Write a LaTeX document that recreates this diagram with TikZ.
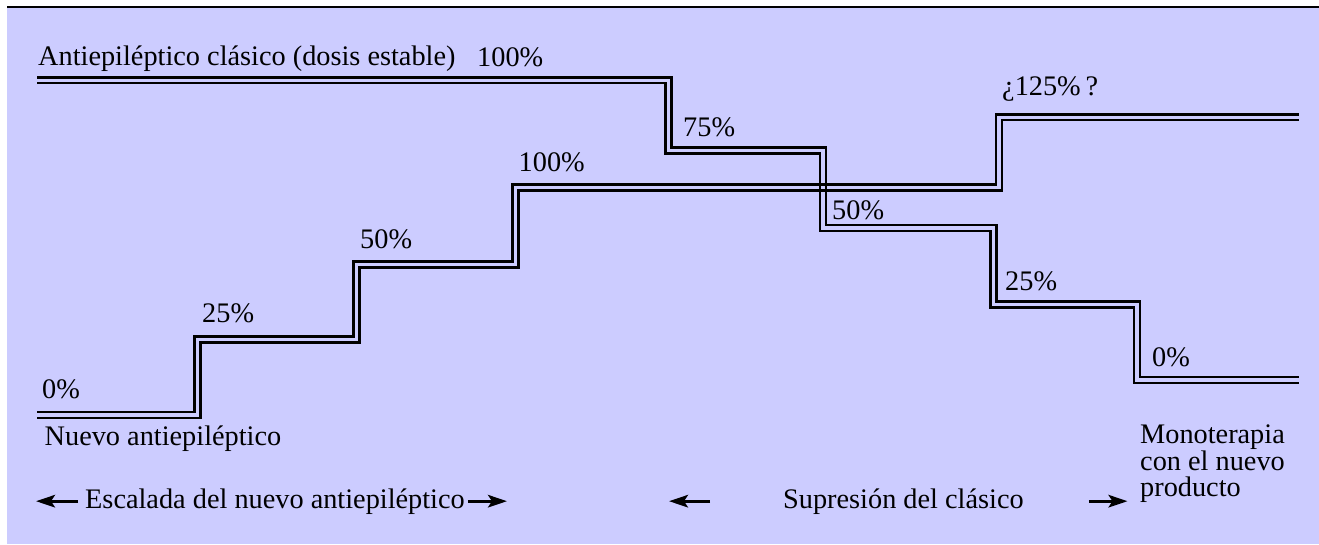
\documentclass[tikz,border=0pt]{standalone}
\usepackage{fontspec}
\setmainfont{Liberation Serif}
\usepackage{tikz}
\usetikzlibrary{arrows.meta,positioning}
\definecolor{panelblue}{RGB}{204,204,255}

\begin{document}
\begin{tikzpicture}[
    x=1pt, y=-1pt,
    lbl/.style={inner sep=0pt, anchor=base west, font=\fontsize{28.3}{26.5}\selectfont},
    rail/.style={line width=2.5pt},
    arrow/.style={-{Stealth[length=19pt, width=12.5pt, inset=4pt]}, line width=2.8pt}
]
\useasboundingbox (0,0) rectangle (1319,544);

% Panel
\fill[panelblue] (7,8) rectangle (1319,544);
\draw[line width=2.2pt] (7,7.2) -- (1319,7.2);

% Classic drug (stepping down)
\foreach \d in {-2.8,2.8}
  \draw[rail] (37,{80.3-\d}) -| ({668.5+\d},{150.5-\d}) -| ({823+\d},{228-\d}) -| ({993.5+\d},{304.5-\d}) -| ({1137+\d},{380-\d}) -- (1299,{380-\d});

% New drug (stepping up)
\foreach \d in {-2.8,2.8}
  \draw[rail] (37,{415-\d}) -| ({197.5-\d},{339.5-\d}) -| ({356.5-\d},{264.5-\d}) -| ({515.5-\d},{187.5-\d}) -| ({999-\d},{117.3-\d}) -- (1299,{117.3-\d});

% Labels, classic
\node[lbl] (classic) at (38,65.5) {Antiepiléptico clásico (dosis estable)};
\node[lbl] (c100) at (477,66) {100\%};
\node[lbl] (c75) at (683,136.7) {75\%};
\node[lbl] (c50) at (832,219) {50\%};
\node[lbl] (c25) at (1005,290.7) {25\%};
\node[lbl] (c0) at (1152,366) {0\%};

% Labels, new drug
\node[lbl] (n0) at (42,398) {0\%};
\node[lbl] (n25) at (202,322.7) {25\%};
\node[lbl] (n50) at (360,248) {50\%};
\node[lbl] (n100) at (518.5,171.5) {100\%};
\node[lbl] (n125) at (1002,95.7) {¿125\%\,?};
\node[lbl] (newdrug) at (44.5,445) {Nuevo antiepiléptico};

% Bottom row
\node[lbl] (escalada) at (85,508) {Escalada del nuevo antiepiléptico};
\node[lbl] (supresion) at (783,508) {Supresión del clásico};
\node[lbl, align=left] (mono) at (1140,496.5) {Monoterapia\\con el nuevo\\producto};

\coordinate (escL) at (36,501);
\coordinate (escR) at (507,501);
\coordinate (supL) at (669,501);
\coordinate (supR) at (1127.5,501);

\draw[arrow, shorten <=7pt] (escalada.west) -- (escalada.west -| escL);
\draw[arrow, shorten <=3pt] (escalada.east) -- (escalada.east -| escR);
\draw[arrow, shorten <=73pt] (supresion.west) -- (supresion.west -| supL);
\draw[arrow, shorten <=65pt] (supresion.east) -- (supresion.east -| supR);

\end{tikzpicture}
\end{document}
